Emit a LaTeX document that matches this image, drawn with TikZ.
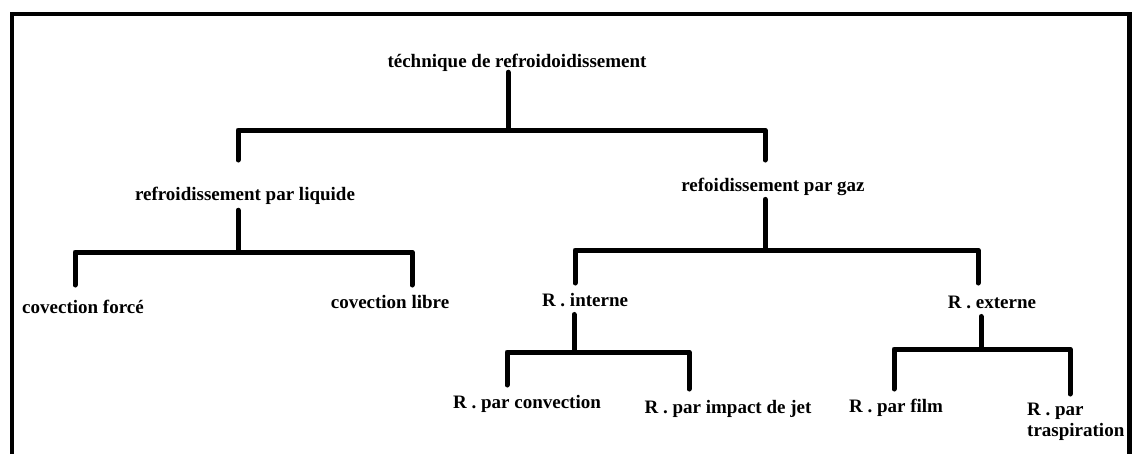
\documentclass[tikz,border=0pt]{standalone}
\usepackage{fontspec}
\setmainfont{Liberation Serif}
\usetikzlibrary{calc}
\begin{document}
\begin{tikzpicture}[x=1pt,y=-1pt,
  lbl/.style={font=\fontsize{19}{21}\selectfont\bfseries, inner sep=0pt, anchor=base},
  conn/.style={line width=5pt, line cap=round, line join=round},
  framestyle/.style={line width=4.5pt}]
\useasboundingbox (0,0) rectangle (1133,453);
\draw[framestyle] (12,460) -- (12,14) -- (1129.5,14) -- (1129.5,460);
% labels
\node[lbl] (root) at (517,67) {téchnique de refroidoidissement};
\node[lbl] (liq) at (245,200) {refroidissement par liquide};
\node[lbl] (gaz) at (773,191) {refoidissement par gaz};
\node[lbl] (forc) at (83,313) {covection forcé};
\node[lbl] (libre) at (390,308) {covection libre};
\node[lbl] (int) at (585,306) {R . interne};
\node[lbl] (ext) at (992,308) {R . externe};
\node[lbl] (conv) at (527,408) {R . par convection};
\node[lbl] (jet) at (728,413) {R . par impact de jet};
\node[lbl] (film) at (896,412) {R . par film};
\node[lbl, anchor=north west, align=left, font=\fontsize{19}{21}\selectfont\bfseries] (trasp) at (1027,403) {R . par\\traspiration};
% junctions and drop ends
\coordinate (rootJ) at (508,130);
\coordinate (liqT) at (238,160);
\coordinate (gazT) at (765,160);
\coordinate (liqJ) at (238,252);
\coordinate (forcT) at (75,285);
\coordinate (libreT) at (412,285);
\coordinate (gazJ) at (765,250);
\coordinate (intT) at (575,283);
\coordinate (extT) at (978,283);
\coordinate (intJ) at (574,352);
\coordinate (convT) at (507,385);
\coordinate (jetT) at (689,389);
\coordinate (extJ) at (981,349);
\coordinate (filmT) at (894,389);
\coordinate (traspT) at (1070,394);
% connectors
\draw[conn] ($(root.south -| rootJ)+(0,1)$) -- (rootJ);
\draw[conn] (rootJ) -| (liqT);
\draw[conn] (rootJ) -| (gazT);
\draw[conn] ($(liq.south -| liqJ)+(0,6)$) -- (liqJ);
\draw[conn] (liqJ) -| (forcT);
\draw[conn] (liqJ) -| (libreT);
\draw[conn] ($(gaz.south -| gazJ)+(0,4)$) -- (gazJ);
\draw[conn] (gazJ) -| (intT);
\draw[conn] (gazJ) -| (extT);
\draw[conn] ($(int.south -| intJ)+(0,8)$) -- (intJ);
\draw[conn] (intJ) -| (convT);
\draw[conn] (intJ) -| (jetT);
\draw[conn] ($(ext.south -| extJ)+(0,8)$) -- (extJ);
\draw[conn] (extJ) -| (filmT);
\draw[conn] (extJ) -| (traspT);
\end{tikzpicture}
\end{document}
